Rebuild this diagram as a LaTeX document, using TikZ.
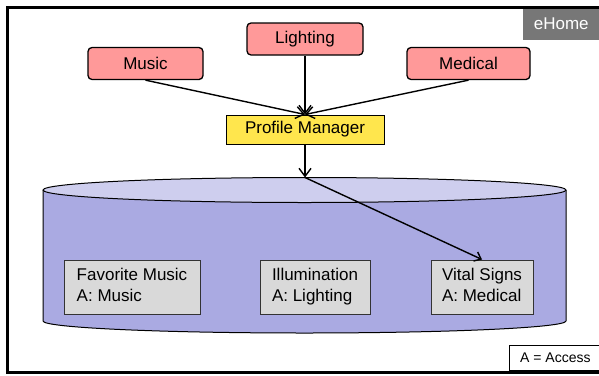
\documentclass[tikz,border=0pt]{standalone}
\usepackage{fontspec}
\setmainfont{Liberation Sans}
\usetikzlibrary{positioning}
\usetikzlibrary{arrows.meta}
\definecolor{appred}{RGB}{255,153,153}
\definecolor{mgryellow}{RGB}{255,230,77}
\definecolor{dbside}{RGB}{170,170,226}
\definecolor{dbtopfill}{RGB}{206,206,238}
\definecolor{recgray}{RGB}{217,217,217}
\definecolor{tabgray}{RGB}{119,119,119}

\begin{document}
\begin{tikzpicture}[x=1pt,y=-1pt,
    app/.style={draw,line width=1.3pt,rounded corners=4pt,fill=appred,minimum width=115pt,minimum height=32pt,inner sep=0pt,font=\fontsize{17}{20}\selectfont},
    mgr/.style={draw,line width=1pt,fill=mgryellow,minimum width=158pt,minimum height=29pt,inner sep=0pt,font=\fontsize{17}{20}\selectfont},
    rec/.style={draw=black!80,line width=1pt,fill=recgray,align=left,inner xsep=11pt,inner ysep=0pt,minimum height=54pt,font=\fontsize{17}{21}\selectfont},
    link/.style={line width=1.4pt,-{Straight Barb[length=8pt,width=12pt]}}]
    \useasboundingbox (0,0) rectangle (599,375);

    % frame
    \draw[line width=3pt] (7.5,7) rectangle (601,372.5);
    \node[fill=tabgray,text=white,anchor=north east,minimum width=77pt,minimum height=31pt,inner sep=0pt,font=\fontsize{17}{20}\selectfont] (home) at (600,8.5) {eHome};
    \node[draw,line width=0.8pt,fill=white,anchor=south west,minimum width=92pt,minimum height=25pt,inner sep=0pt,font=\fontsize{14}{16}\selectfont] (legend) at (509,371) {A = Access};

    % database cylinder
    \fill[dbside] (43,190) -- (43,321) arc[start angle=180,end angle=0,x radius=261.5,y radius=12] -- (566,190) -- cycle;
    \draw[line width=1pt] (43,190) -- (43,321) arc[start angle=180,end angle=0,x radius=261.5,y radius=12] -- (566,190);
    \draw[line width=1pt,fill=dbtopfill] (304.5,190) ellipse[x radius=261.5,y radius=12.5];
    \coordinate (dbtop) at (305,177.5);

    \node[app] (music) at (145.5,63.5) {Music};
    \node[app,minimum width=116pt] (lighting) at (305,39) {Lighting};
    \node[app,minimum width=123pt] (medical) at (468.5,63.5) {Medical};
    \node[mgr] (pm) at (305,129.5) {Profile Manager};

    \node[rec,minimum width=136pt] (fav) at (132,287) {\strut Favorite Music\\A: Music\strut};
    \node[rec,minimum width=110pt] (illum) at (315,287) {\strut Illumination\\A: Lighting\strut};
    \node[rec,minimum width=102pt] (vital) at (482,287) {\strut Vital Signs\\A: Medical\strut};

    \draw[link] (music.south) -- (pm.north);
    \draw[link] (lighting.south) -- (pm.north);
    \draw[link] (medical.south) -- (pm.north);
    \draw[link] (pm.south) -- (dbtop);
    \draw[line width=1.4pt,-{Straight Barb[length=6pt,width=10pt]}] (dbtop) -- (vital.north);
\end{tikzpicture}
\end{document}
